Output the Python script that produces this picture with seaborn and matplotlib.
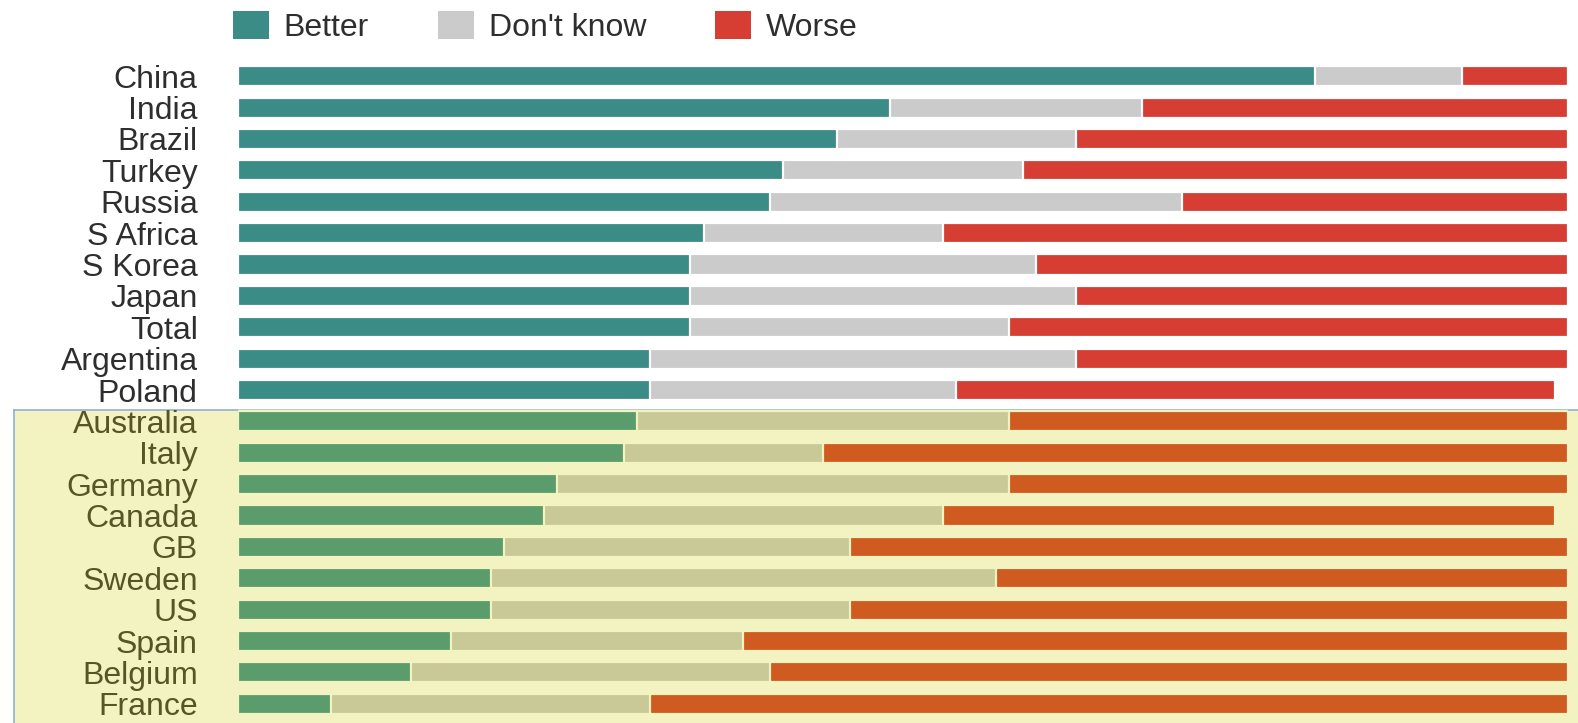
import numpy as np
import pandas as pd
import matplotlib
matplotlib.use("Agg")
import matplotlib.pyplot as plt
from matplotlib.patches import Patch, Rectangle
from matplotlib.lines import Line2D
import seaborn as sns

# values (percent)
countries = ["China", "India", "Brazil", "Turkey", "Russia", "S Africa", "S Korea",
             "Japan", "Total", "Argentina", "Poland", "Australia", "Italy", "Germany",
             "Canada", "GB", "Sweden", "US", "Spain", "Belgium", "France"]
better = [81, 49, 45, 41, 40, 35, 34, 34, 34, 31, 31, 30, 29, 24, 23, 20, 19, 19, 16, 13, 7]
dont_know = [11, 19, 18, 18, 31, 18, 26, 29, 24, 32, 23, 28, 15, 34, 30, 26, 38, 27, 22, 27, 24]
worse = [8, 32, 37, 41, 29, 47, 40, 37, 42, 37, 45, 42, 56, 42, 46, 54, 43, 54, 62, 60, 69]
n_top = 11  # rows above the highlighted block

df = pd.DataFrame({"country": countries, "better": better,
                   "dont_know": dont_know, "worse": worse})
df["cum_dk"] = df["better"] + df["dont_know"]
df["cum_worse"] = df["cum_dk"] + df["worse"]

top_cols = {"better": "#3b8b87", "dont_know": "#cbcbcb", "worse": "#d63e33"}
low_cols = {"better": "#5a9c6b", "dont_know": "#c9c997", "worse": "#d05b20"}
hl_bg = "#f3f2c1"

W, H = 1578, 723
fig = plt.figure(figsize=(W / 100, H / 100), dpi=100)
fig.patch.set_facecolor("white")

# highlighted block behind the lower rows
y_hl = (H - 410) / H
fig.patches.append(Rectangle((14 / W, 0), 1 - 14 / W, y_hl, transform=fig.transFigure,
                             facecolor=hl_bg, edgecolor="none", zorder=-5))
fig.add_artist(Line2D([14 / W, 1], [y_hl, y_hl], transform=fig.transFigure,
                      color="#8fb0d8", lw=1.2, zorder=-4))
fig.add_artist(Line2D([14 / W, 14 / W], [0, y_hl], transform=fig.transFigure,
                      color="#8fb0d8", lw=1.2, zorder=-4))

ax = fig.add_axes([238 / W, 3.5 / H, 1330 / W, 659 / H])
ax.set_facecolor("none")


def row_palette(key):
    return {c: (top_cols[key] if i < n_top else low_cols[key]) for i, c in enumerate(countries)}


# stacked bars: draw the cumulative totals, longest first
for col, key in [("cum_worse", "worse"), ("cum_dk", "dont_know"), ("better", "better")]:
    sns.barplot(data=df, x=col, y="country", hue="country", palette=row_palette(key),
                legend=False, errorbar=None, saturation=1, width=0.64,
                linewidth=1.6, ax=ax)

# gap colour follows the row background
for p in ax.patches:
    yc = p.get_y() + p.get_height() / 2
    p.set_edgecolor("white" if yc < n_top - 0.5 else hl_bg)

ax.set_xlim(0, 100)
ax.set_ylim(len(countries) - 0.5, -0.5)
ax.set_xlabel("")
ax.set_ylabel("")
ax.set_xticks([])
for s in ax.spines.values():
    s.set_visible(False)
ax.tick_params(axis="y", length=0, pad=29, labelsize=23)
for i, lab in enumerate(ax.get_yticklabels()):
    lab.set_fontfamily("Liberation Sans")
    lab.set_color("#2e2e2e" if i < n_top else "#555526")

handles = [Patch(facecolor=top_cols["better"], label="Better"),
           Patch(facecolor=top_cols["dont_know"], label="Don't know"),
           Patch(facecolor=top_cols["worse"], label="Worse")]
fig.legend(handles=handles, loc="upper left", bbox_to_anchor=(233 / W, 1 - 11 / H),
           ncol=3, frameon=False, borderpad=0, borderaxespad=0,
           handlelength=1.13, handleheight=0.95, handletextpad=0.45,
           columnspacing=2.17, prop={"family": "Liberation Sans", "size": 23},
           labelcolor="#2e2e2e")

fig.savefig("out.png", dpi=100, facecolor="white")
